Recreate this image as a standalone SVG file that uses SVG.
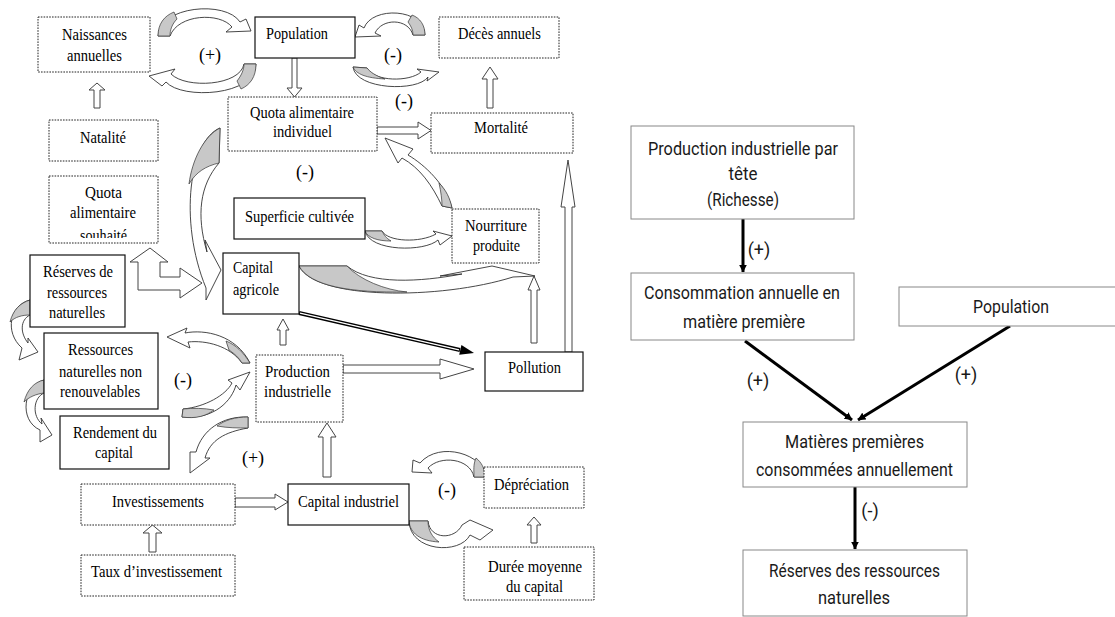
<svg xmlns="http://www.w3.org/2000/svg" width="1115" height="617" viewBox="0 0 1115 617">
<style>
.t{font-family:"Liberation Serif",serif;font-size:17.5px;text-anchor:middle;fill:#000}
.ts{font-family:"Liberation Serif",serif;font-size:17.5px;text-anchor:start;fill:#000}
.lb{font-family:"Liberation Serif",serif;font-size:18px;text-anchor:middle;fill:#000}
.r{font-family:Roboto,"Liberation Sans",sans-serif;font-size:18px;text-anchor:middle;fill:#1a1a1a}
.solid{fill:#fff;stroke:#111;stroke-width:1.2}
.dot{fill:#fff;stroke:#222;stroke-width:1;stroke-dasharray:1.6 1.2}
.rbox{fill:#fff;stroke:#888;stroke-width:1}
.ha{fill:#fff;stroke:#444;stroke-width:1}
.ca{fill:#fff;stroke:#333;stroke-width:0.9}
.cg{fill:#c8c8c8;stroke:#333;stroke-width:0.7}
.ra{stroke:#000;stroke-width:3;fill:none}
</style>
<defs>
<marker id="ah" markerWidth="8" markerHeight="8" refX="6.5" refY="3.5" orient="auto" markerUnits="userSpaceOnUse" viewBox="0 0 7 7">
<path d="M0,0 L7,3.5 L0,7 Z" fill="#000"/>
</marker>
<clipPath id="clipSouhaite"><rect x="49" y="176" width="109" height="62"/></clipPath>
</defs>
<rect width="1115" height="617" fill="#fff"/>

<g id="connectors">
<polygon class="ha" points="292,58 297,58 297,88 302,88 294.5,97 287,88 292,88"/>
<polygon class="ha" points="377,127 418,127 418,122 431,130.5 418,139 418,134 377,134"/>
<polygon class="ha" points="487,108 487,79 482,79 490,67 498,79 493,79 493,108"/>
<polygon class="ha" points="94,108 94,90 89,90 97,83 105,90 100,90 100,108"/>
<polygon class="ha" points="150,248 168,262 160,262 160,277 180,277 180,268 202,283 180,298 180,290 138,290 138,262 130,262"/>
<polygon class="ha" points="323,477 323,437 318,437 327,423 336,437 331,437 331,477"/>
<polygon class="ha" points="280,345 280,330 277,330 283,319 289,330 286,330 286,345"/>
<polygon class="ha" points="343,365 440,365 440,359 474,369 440,379 440,373 343,373"/>
<polygon class="ha" points="531,343 531,290 528,290 534,276 540,290 537,290 537,343"/>
<polygon class="ha" points="565,352 565,207 561,207 568,160 575,207 572,207 572,352"/>
<polygon class="ha" points="235,498 275,498 275,494 288,502 275,510 275,507 235,507"/>
<polygon class="ha" points="149,552 149,533 143,533 152.5,525 162,533 156,533 156,552"/>
<polygon class="ha" points="531,543 531,525 527,525 534,517 541,525 537,525 537,543"/>

<line x1="299" y1="313" x2="460" y2="350" stroke="#000" stroke-width="4"/>
<line x1="300" y1="313.2" x2="459" y2="349.8" stroke="#fff" stroke-width="1.3"/>
<polygon points="474,353 459.2,354.8 461.4,345" fill="#000"/>

<path class="ca" d="M158,36 C159,6 226,0 240,22 L246,19 L251,31 L226,32 L232,27 C220,12 178,14 170,36 Z"/>
<path class="cg" d="M158,36 C158,24 164,16 174,12 L177,19 C172,24 170,30 170,36 Z"/>
<path class="ca" d="M256,64 C256,96 182,100 166,82 L162,86 L149,76 L175,69 L171,74 C186,89 240,86 244,64 Z"/>
<path class="cg" d="M256,64 C256,77 250,85 241,89 L237,81 C241,76 244,70 244,64 Z"/>
<path class="ca" d="M425,35 C424,8 372,6 364,28 L359,25 L355,37 L381,36 L375,33 C382,18 408,18 413,35 Z"/>
<path class="cg" d="M425,35 C425,25 420,18 412,15 L408,22 C411,26 413,30 413,35 Z"/>
<path class="ca" d="M353,67 C356,90 418,92 428,77 L427,81 L439,72 L417,69 L421,72 C410,82 374,82 367,68 Z"/>
<path class="cg" d="M353,67 C356,74 366,78 385,79 C376,76 370,72 367,68 Z"/>
<path class="ca" d="M220,128 C190,140 178,220 206,288 L206,300 L221,270 L205,240 L207,252 C196,215 200,185 219,163 Z"/>
<path class="cg" d="M220,128 C204,136 192,160 189,184 C196,172 206,166 219,163 Z"/>
<path class="ca" d="M452,208 C446,185 425,165 408,155 L413,149 L385,138 L398,163 L402,158 C420,168 432,185 442,206 Z"/>
<path class="cg" d="M452,208 C450,198 446,190 439,183 C441,192 442,200 442,206 Z"/>
<path class="ca" d="M365,231 C370,252 425,252 438,240 L440,245 L452,236 L433,231 L436,234 C420,243 388,242 382,231 Z"/>
<path class="cg" d="M365,231 L382,231 C384,235 386,238 391,241 C378,241 368,238 365,231 Z"/>
<path class="ca" d="M299,266 C315,300 440,300 513,277 L535,276 L492,266 L440,276 L462,274 C420,282 370,285 347,266 Z"/>
<path class="cg" d="M299,266 L347,266 C360,280 385,290 407,292 C350,293 310,286 299,266 Z"/>
<path class="ca" d="M30,300 C10,305 4,332 22,348 L19,360 L38,352 L28,338 L28,343 C20,333 20,320 30,315 Z"/>
<path class="cg" d="M30,300 C20,303 13,310 10,322 C15,317 22,315 30,315 Z"/>
<path class="ca" d="M44,380 C24,385 18,420 40,430 L40,442 L52,435 L41,418 L42,424 C32,416 33,398 44,393 Z"/>
<path class="cg" d="M44,380 C34,382 27,390 24,402 C29,397 36,394 44,393 Z"/>
<path class="ca" d="M250,363 C236,335 205,329 185,333 L187,328 L167,337 L190,348 L188,342 C206,340 230,346 242,363 Z"/>
<path class="cg" d="M250,363 C243,352 236,345 226,341 L229,350 C235,354 239,358 242,363 Z"/>
<path class="ca" d="M182,417 C215,420 232,400 236,385 L240,390 L250,372 L228,380 L232,383 C226,395 205,407 183,409 Z"/>
<path class="cg" d="M182,417 C196,419 206,416 214,410 C204,408 193,408 183,409 Z"/>
<path class="ca" d="M248,417 C222,416 202,430 196,452 L190,452 L190,473 L210,458 L205,458 C210,440 225,432 248,428 Z"/>
<path class="cg" d="M248,417 C235,417 225,420 217,426 C228,428 238,428 248,428 Z"/>
<path class="ca" d="M485,477 C485,455 440,440 420,463 L413,460 L412,472 L432,473 L428,468 C440,455 470,458 474,477 Z"/>
<path class="cg" d="M485,477 C485,468 481,462 476,458 C473,465 474,470 474,477 Z"/>
<path class="ca" d="M409,521 C410,552 460,555 470,535 L480,540 L493,530 L470,520 L462,525 C455,540 430,540 428,521 Z"/>
<path class="cg" d="M409,521 L428,521 C428,530 432,537 439,542 C420,541 410,533 409,521 Z"/>

<line class="ra" x1="743" y1="219" x2="743" y2="272" marker-end="url(#ah)"/>
<line class="ra" x1="745" y1="341" x2="852" y2="420" marker-end="url(#ah)"/>
<line class="ra" x1="1010" y1="326" x2="858" y2="420" marker-end="url(#ah)"/>
<line class="ra" x1="855" y1="487" x2="855" y2="549" marker-end="url(#ah)"/>
</g>

<g id="labels">
<text class="lb" x="210" y="61">(+)</text>
<text class="lb" x="393" y="61">(-)</text>
<text class="lb" x="404" y="107">(-)</text>
<text class="lb" x="305" y="178">(-)</text>
<text class="lb" x="183" y="386">(-)</text>
<text class="lb" x="253" y="464">(+)</text>
<text class="lb" x="447" y="496">(-)</text>
<text class="r" x="759" y="256">(+)</text>
<text class="r" x="758" y="387">(+)</text>
<text class="r" x="966" y="381">(+)</text>
<text class="r" x="870" y="517">(-)</text>
</g>

<g id="naissances">
<rect class="dot" x="38" y="17" width="112" height="55"/>
<text class="t" x="94.5" y="40" textLength="65" lengthAdjust="spacingAndGlyphs">Naissances</text>
<text class="t" x="94.5" y="61" textLength="55" lengthAdjust="spacingAndGlyphs">annuelles</text>
</g>
<g id="population">
<rect class="solid" x="255" y="17" width="100" height="41"/>
<text class="t" x="297" y="39" textLength="62" lengthAdjust="spacingAndGlyphs">Population</text>
</g>
<g id="deces">
<rect class="dot" x="439" y="17" width="120" height="41"/>
<text class="t" x="499.5" y="39" textLength="83" lengthAdjust="spacingAndGlyphs">Décès annuels</text>
</g>
<g id="quota-individuel">
<rect class="dot" x="228" y="97" width="149" height="54"/>
<text class="t" x="302" y="118" textLength="104" lengthAdjust="spacingAndGlyphs">Quota alimentaire</text>
<text class="t" x="302.5" y="137" textLength="59" lengthAdjust="spacingAndGlyphs">individuel</text>
</g>
<g id="mortalite">
<rect class="dot" x="431" y="113" width="142" height="40"/>
<text class="t" x="501" y="133" textLength="54" lengthAdjust="spacingAndGlyphs">Mortalité</text>
</g>
<g id="natalite">
<rect class="dot" x="49" y="120" width="109" height="41"/>
<text class="t" x="103" y="143" textLength="46" lengthAdjust="spacingAndGlyphs">Natalité</text>
</g>
<g id="quota-souhaite">
<rect class="dot" x="49" y="176" width="109" height="67"/>
<text class="t" x="103.5" y="198" textLength="37" lengthAdjust="spacingAndGlyphs">Quota</text>
<text class="t" x="103" y="218" textLength="66" lengthAdjust="spacingAndGlyphs">alimentaire</text>
<text class="t" x="103.5" y="241" textLength="47" lengthAdjust="spacingAndGlyphs" clip-path="url(#clipSouhaite)">souhaité</text>
</g>
<g id="superficie">
<rect class="solid" x="234" y="198" width="131" height="41"/>
<text class="t" x="299.5" y="222" textLength="109" lengthAdjust="spacingAndGlyphs">Superficie cultivée</text>
</g>
<g id="nourriture">
<rect class="dot" x="452" y="209" width="87" height="54"/>
<text class="t" x="496" y="231" textLength="62" lengthAdjust="spacingAndGlyphs">Nourriture</text>
<text class="t" x="496.5" y="251" textLength="47" lengthAdjust="spacingAndGlyphs">produite</text>
</g>
<g id="reserves">
<rect class="solid" x="30" y="255" width="95" height="72"/>
<text class="t" x="78" y="277" textLength="70" lengthAdjust="spacingAndGlyphs">Réserves de</text>
<text class="t" x="77" y="298" textLength="60" lengthAdjust="spacingAndGlyphs">ressources</text>
<text class="t" x="77" y="318" textLength="56" lengthAdjust="spacingAndGlyphs">naturelles</text>
</g>
<g id="capital-agricole">
<rect class="solid" x="223" y="253" width="76" height="61"/>
<text class="ts" x="233" y="273" textLength="40" lengthAdjust="spacingAndGlyphs">Capital</text>
<text class="ts" x="233" y="295" textLength="46" lengthAdjust="spacingAndGlyphs">agricole</text>
</g>
<g id="ressources-nr">
<rect class="solid" x="44" y="333" width="114" height="76"/>
<text class="t" x="100.5" y="355" textLength="65" lengthAdjust="spacingAndGlyphs">Ressources</text>
<text class="t" x="100.5" y="377" textLength="83" lengthAdjust="spacingAndGlyphs">naturelles non</text>
<text class="t" x="100" y="397" textLength="80" lengthAdjust="spacingAndGlyphs">renouvelables</text>
</g>
<g id="rendement">
<rect class="solid" x="60" y="416" width="109" height="53"/>
<text class="t" x="115" y="438" textLength="84" lengthAdjust="spacingAndGlyphs">Rendement du</text>
<text class="t" x="114" y="458" textLength="38" lengthAdjust="spacingAndGlyphs">capital</text>
</g>
<g id="production-industrielle">
<rect class="dot" x="256" y="355" width="87" height="67"/>
<text class="t" x="297.5" y="377" textLength="65" lengthAdjust="spacingAndGlyphs">Production</text>
<text class="t" x="297.5" y="397" textLength="67" lengthAdjust="spacingAndGlyphs">industrielle</text>
</g>
<g id="pollution">
<rect class="solid" x="485" y="352" width="98" height="39"/>
<text class="t" x="534.5" y="373" textLength="53" lengthAdjust="spacingAndGlyphs">Pollution</text>
</g>
<g id="capital-industriel">
<rect class="solid" x="288" y="484" width="121" height="41"/>
<text class="t" x="348.5" y="507" textLength="101" lengthAdjust="spacingAndGlyphs">Capital industriel</text>
</g>
<g id="depreciation">
<rect class="dot" x="484" y="467" width="100" height="41"/>
<text class="t" x="531.5" y="490" textLength="75" lengthAdjust="spacingAndGlyphs">Dépréciation</text>
</g>
<g id="duree">
<rect class="dot" x="464" y="547" width="130" height="53"/>
<text class="t" x="535" y="572" textLength="94" lengthAdjust="spacingAndGlyphs">Durée moyenne</text>
<text class="t" x="534.5" y="592" textLength="57" lengthAdjust="spacingAndGlyphs">du capital</text>
</g>
<g id="investissements">
<rect class="dot" x="81" y="484" width="154" height="41"/>
<text class="t" x="158" y="507" textLength="92" lengthAdjust="spacingAndGlyphs">Investissements</text>
</g>
<g id="taux">
<rect class="dot" x="81" y="555" width="154" height="41"/>
<text class="t" x="156.5" y="577" textLength="131" lengthAdjust="spacingAndGlyphs">Taux d’investissement</text>
</g>

<g id="r-production">
<rect class="rbox" x="631" y="126" width="223" height="93"/>
<text class="r" x="743" y="155" textLength="190" lengthAdjust="spacingAndGlyphs">Production industrielle par</text>
<text class="r" x="743" y="180" textLength="29" lengthAdjust="spacingAndGlyphs">tête</text>
<text class="r" x="743" y="206" textLength="72" lengthAdjust="spacingAndGlyphs">(Richesse)</text>
</g>
<g id="r-consommation">
<rect class="rbox" x="631" y="273" width="223" height="67"/>
<text class="r" x="742" y="299" textLength="196" lengthAdjust="spacingAndGlyphs">Consommation annuelle en</text>
<text class="r" x="744" y="328" textLength="122" lengthAdjust="spacingAndGlyphs">matière première</text>
</g>
<g id="r-population">
<rect class="rbox" x="899" y="287" width="230" height="39"/>
<text class="r" x="1011" y="313" textLength="76" lengthAdjust="spacingAndGlyphs">Population</text>
</g>
<g id="r-matieres">
<rect class="rbox" x="743" y="422" width="224" height="65"/>
<text class="r" x="854.5" y="448" textLength="139" lengthAdjust="spacingAndGlyphs">Matières premières</text>
<text class="r" x="854.5" y="476" textLength="197" lengthAdjust="spacingAndGlyphs">consommées annuellement</text>
</g>
<g id="r-reserves">
<rect class="rbox" x="743" y="550" width="224" height="66"/>
<text class="r" x="854.5" y="577" textLength="171" lengthAdjust="spacingAndGlyphs">Réserves des ressources</text>
<text class="r" x="854" y="604" textLength="72" lengthAdjust="spacingAndGlyphs">naturelles</text>
</g>
</svg>
